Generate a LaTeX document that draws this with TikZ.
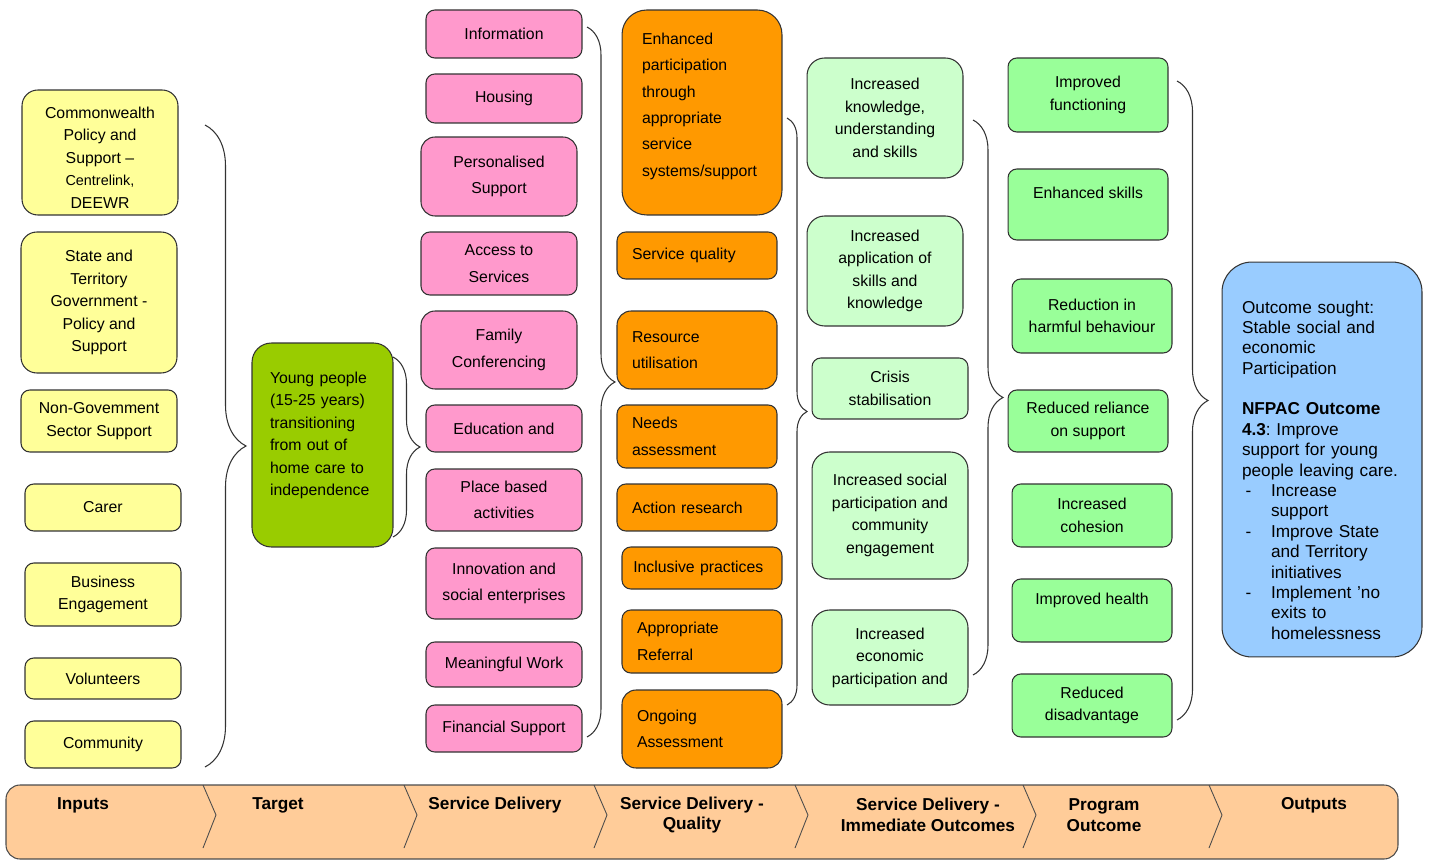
\documentclass[tikz,border=0pt]{standalone}
\usepackage{fontspec}
\setmainfont{Liberation Sans}
\usetikzlibrary{decorations.pathreplacing}

\definecolor{inyellow}{HTML}{FFFF99}
\definecolor{tgtgreen}{HTML}{99CC00}
\definecolor{sdpink}{HTML}{FF99CC}
\definecolor{qorange}{HTML}{FF9900}
\definecolor{iogreen}{HTML}{CCFFCC}
\definecolor{pogreen}{HTML}{99FF99}
\definecolor{outblue}{HTML}{99CCFF}
\definecolor{barpeach}{HTML}{FFCC99}

\tikzset{
  box/.style={draw=black!80, line width=0.6pt, rounded corners=5pt, inner sep=0pt, align=center, font=\fontsize{9}{12.8}\selectfont},
  inbox/.style={box, fill=inyellow, minimum width=3.12cm},
  tgtbox/.style={box, fill=tgtgreen, text width=2.1cm, inner xsep=0.36cm, align=left, rounded corners=11pt},
  sdbox/.style={box, fill=sdpink, minimum width=3.12cm, font=\fontsize{9}{15}\selectfont},
  qbox/.style={box, fill=qorange, text width=2.6cm, inner xsep=0.3cm, align=left, font=\fontsize{9}{15}\selectfont},
  iobox/.style={box, fill=iogreen, minimum width=3.12cm},
  pobox/.style={box, fill=pogreen, minimum width=3.2cm},
  outbox/.style={box, fill=outblue, text width=3.2cm, inner xsep=0.4cm, align=left, rounded corners=17pt, font=\fontsize{9.8}{11.6}\selectfont\frenchspacing},
  grpbrace/.style={decorate, decoration={brace, amplitude=#1}, draw=black!80, line width=0.6pt},
  bar/.style={draw=black!70, fill=barpeach, rounded corners=8pt, line width=0.6pt},
  chevron/.style={draw=black!70, line width=0.5pt},
  barlabel/.style={inner sep=0pt, align=center, font=\bfseries\fontsize{9.8}{11.9}\selectfont}
}

\begin{document}
\begin{tikzpicture}[x=0.02cm, y=-0.02cm]
\useasboundingbox (0,0) rectangle (1432,861);

% inputs
\node[inbox, minimum height=2.5cm, rounded corners=9pt] (commonwealth) at (100,152.5) {\rule{0pt}{12pt}Commonwealth\\Policy and\\Support --\\\fontsize{8.2}{11}\selectfont Centrelink,\\DEEWR};
\node[inbox, minimum height=2.82cm, rounded corners=9pt] (state) at (99,302.5) {State and\\Territory\\Government -\\Policy and\\Support};
\node[inbox, minimum height=1.24cm] (nongov) at (99,421) {Non-Govemment\\Sector Support};
\node[inbox, minimum height=0.94cm] (carer) at (103,507.5) {Carer};
\node[inbox, minimum height=1.26cm] (business) at (103,594.5) {Business\\Engagement};
\node[inbox, minimum height=0.82cm] (volunteers) at (103,678.5) {Volunteers};
\node[inbox, minimum height=0.94cm] (community) at (103,744.5) {Community};
\draw[grpbrace=0.82cm] (205,125) -- (205,767);

% target
\node[tgtbox, minimum height=4.08cm] (young) at (322.5,445) {Young people\\(15-25 years)\\transitioning\\from out of\\home care to\\independence\\~};
\draw[grpbrace=0.54cm] (393,357) -- (393,537);

% service delivery
\node[sdbox, minimum height=0.96cm] (information) at (504,34) {Information};
\node[sdbox, minimum height=0.98cm] (housing) at (504,98.5) {Housing};
\node[sdbox, minimum height=1.58cm, rounded corners=8pt] (personalised) at (499,176.5) {Personalised\\Support};
\node[sdbox, minimum height=1.26cm] (access) at (499,263.5) {Access to\\Services};
\node[sdbox, minimum height=1.56cm, rounded corners=8pt] (family) at (499,350) {Family\\Conferencing};
\node[sdbox, minimum height=0.94cm] (education) at (504,428.5) {Education and};
\node[sdbox, minimum height=1.24cm] (placebased) at (504,500) {Place based\\activities};
\node[sdbox, minimum height=1.42cm] (innovation) at (504,583.5) {Innovation and\\social enterprises};
\node[sdbox, minimum height=0.9cm] (work) at (504,664.5) {Meaningful Work};
\node[sdbox, minimum height=0.94cm] (financial) at (504,728.5) {Financial Support};
\draw[grpbrace=0.56cm] (587,27) -- (587,737);

% service delivery - quality
\node[qbox, minimum height=4.1cm, text width=2.4cm, inner xsep=0.4cm, rounded corners=14pt] (enhanced) at (702,112.5) {Enhanced\\participation\\through\\appropriate\\service\\systems/support\\[-6pt]~};
\node[qbox, minimum height=0.94cm] (quality) at (697,255.5) {Service quality};
\node[qbox, minimum height=1.56cm, rounded corners=8pt] (resource) at (697,350) {Resource\\utilisation};
\node[qbox, minimum height=1.26cm] (needs) at (697,436.5) {Needs\\assessment};
\node[qbox, minimum height=0.94cm] (action) at (697,507.5) {Action research};
\node[qbox, minimum height=0.84cm, text width=2.75cm, inner xsep=0.225cm] (inclusive) at (702,568) {Inclusive practices};
\node[qbox, minimum height=1.26cm] (referral) at (702,641.5) {Appropriate\\Referral};
\node[qbox, minimum height=1.56cm, rounded corners=8pt] (ongoing) at (702,729) {Ongoing\\Assessment};
\draw[grpbrace=0.4cm] (787,118) -- (787,705);

% immediate outcomes
\node[iobox, minimum height=2.4cm, rounded corners=10pt] (knowledge) at (885,118) {Increased\\knowledge,\\understanding\\and skills};
\node[iobox, minimum height=2.2cm, rounded corners=10pt] (application) at (885,271) {Increased\\application of\\skills and\\knowledge};
\node[iobox, minimum height=1.22cm] (crisis) at (890,388.5) {Crisis\\stabilisation};
\node[iobox, minimum height=2.54cm, rounded corners=10pt] (social) at (890,515.5) {Increased social\\participation and\\community\\engagement};
\node[iobox, minimum height=1.9cm, rounded corners=10pt] (economic) at (890,657.5) {Increased\\economic\\participation and};
\draw[grpbrace=0.6cm] (973,120) -- (973,675);

% program outcome
\node[pobox, minimum height=1.48cm] (functioning) at (1088,95) {Improved\\functioning};
\node[pobox, minimum height=1.42cm] (skills) at (1088,204.5) {Enhanced skills\\~};
\node[pobox, minimum height=1.48cm] (harmful) at (1092,316) {Reduction in\\harmful behaviour};
\node[pobox, minimum height=1.24cm] (reliance) at (1088,421) {Reduced reliance\\on support};
\node[pobox, minimum height=1.26cm] (cohesion) at (1092,515.5) {Increased\\cohesion};
\node[pobox, minimum height=1.26cm] (health) at (1092,610.5) {Improved health\\~};
\node[pobox, minimum height=1.26cm] (disadvantage) at (1092,705.5) {Reduced\\disadvantage};
\draw[grpbrace=0.62cm] (1177,81) -- (1177,720);

% outputs
\node[outbox, minimum height=7.9cm] (outcome) at (1322,459.5) {\rule{0pt}{19pt}Outcome sought:\\Stable social and\\economic\\Participation\\[11.6pt]
\textbf{NFPAC Outcome}\\\textbf{4.3}: Improve\\support for young\\people leaving care.\\
\makebox[0.58cm][l]{\hspace{2pt}-}Increase\\\hspace*{0.58cm}support\\
\makebox[0.58cm][l]{\hspace{2pt}-}Improve State\\\hspace*{0.58cm}and Territory\\\hspace*{0.58cm}initiatives\\
\makebox[0.58cm][l]{\hspace{2pt}-}Implement 'no\\\hspace*{0.58cm}exits to\\\hspace*{0.58cm}homelessness};

% stage bar
\draw[bar] (6,785) rectangle (1398,859);
\draw[chevron] (203,785) -- (216,815) -- (203,848);
\draw[chevron] (404,785) -- (417,815) -- (404,848);
\draw[chevron] (594,785) -- (607,815) -- (594,848);
\draw[chevron] (795,785) -- (808,815) -- (795,848);
\draw[chevron] (1023,785) -- (1036,815) -- (1023,848);
\draw[chevron] (1209,785) -- (1222,815) -- (1209,848);
\node[barlabel] (lblinputs) at (83,805) {Inputs};
\node[barlabel] (lbltarget) at (278,805) {Target};
\node[barlabel] (lbldelivery) at (495,805) {Service Delivery};
\node[barlabel] (lblquality) at (692,815) {Service Delivery -\\Quality};
\node[barlabel] (lblimmediate) at (928,815) {Service Delivery -\\Immediate Outcomes};
\node[barlabel] (lblprogram) at (1104,815) {Program\\Outcome};
\node[barlabel] (lbloutputs) at (1314,805) {Outputs};
\end{tikzpicture}
\end{document}
